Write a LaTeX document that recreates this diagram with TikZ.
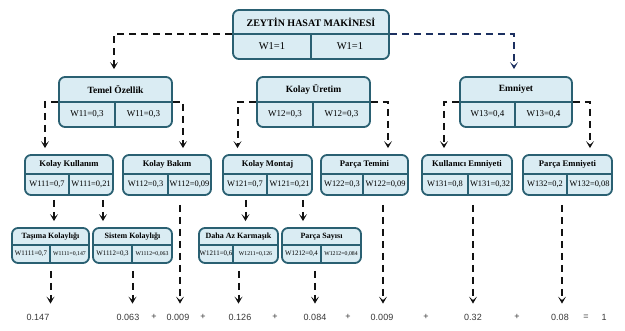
\documentclass[tikz,border=0pt]{standalone}
\usepackage{fontspec}
\setmainfont{Liberation Serif}
\newfontfamily\numfont{Liberation Sans}
\usetikzlibrary{arrows.meta,fit}
\definecolor{boxfill}{RGB}{218,236,243}
\definecolor{boxdraw}{RGB}{42,96,114}
\definecolor{linecol}{RGB}{18,18,18}
\definecolor{bluecol}{RGB}{28,48,96}
\definecolor{numcol}{RGB}{55,55,55}
\tikzset{
  box/.style={draw=boxdraw, fill=boxfill, line width=1.8pt, rounded corners=6pt, inner sep=0pt},
  boxline/.style={draw=boxdraw, line width=1.3pt},
  conn/.style={draw=linecol, line width=2pt, dash pattern=on 7pt off 5pt,
    -{Stealth[length=7pt,width=8pt,inset=3.5pt]}},
  numlab/.style={font=\numfont\fontsize{9}{10}\selectfont, text=numcol, inner sep=0pt},
}
\begin{document}
\begin{tikzpicture}[x=1pt,y=-1pt]
\useasboundingbox (0,0) rectangle (625,331);

% ---------- level 1 ----------
\begin{scope}[ttl/.style={font=\bfseries\fontsize{10}{11}\selectfont, inner sep=0pt},
  lft/.style={font=\fontsize{10.5}{11}\selectfont, inner sep=0pt},
  rgt/.style={font=\fontsize{10.5}{11}\selectfont, inner sep=0pt}]
\foreach \n/\l/\t/\r/\b/\dy/\vx/\ti/\lt/\rt in {
  top/233/10/389/59/34/311/{ZEYTİN HASAT MAKİNESİ}/{W1=1}/{W1=1}}{
  \node[box, fit={(\l,\t)(\r,\b)}] (\n) {};
  \draw[boxline] (\l,\dy) -- (\r,\dy);
  \draw[boxline] (\vx,\dy) -- (\vx,\b);
  \node[ttl] (\n-t) at ({(\l+\r)/2},{(\t+\dy)/2}) {\ti};
  \node[lft] (\n-l) at ({(\l+\vx)/2},{(\dy+\b)/2}) {\lt};
  \node[rgt] (\n-r) at ({(\vx+\r)/2},{(\dy+\b)/2}) {\rt};
}
\end{scope}

% ---------- level 2 ----------
\begin{scope}[ttl/.style={font=\bfseries\fontsize{9.5}{11}\selectfont, inner sep=0pt},
  lft/.style={font=\fontsize{9}{10}\selectfont, inner sep=0pt},
  rgt/.style={font=\fontsize{9}{10}\selectfont, inner sep=0pt}]
\foreach \n/\l/\t/\r/\b/\dy/\vx/\ti/\lt/\rt in {
  temel/59/77/172/127/102/115/{Temel Özellik}/{W11=0,3}/{W11=0,3},
  kuret/257/77/370/127/102/313/{Kolay Üretim}/{W12=0,3}/{W12=0,3},
  emn/460/77/572/127/102/515/{Emniyet}/{W13=0,4}/{W13=0,4}}{
  \node[box, fit={(\l,\t)(\r,\b)}] (\n) {};
  \draw[boxline] (\l,\dy) -- (\r,\dy);
  \draw[boxline] (\vx,\dy) -- (\vx,\b);
  \node[ttl] (\n-t) at ({(\l+\r)/2},{(\t+\dy)/2}) {\ti};
  \node[lft] (\n-l) at ({(\l+\vx)/2},{(\dy+\b)/2}) {\lt};
  \node[rgt] (\n-r) at ({(\vx+\r)/2},{(\dy+\b)/2}) {\rt};
}
\end{scope}

% ---------- level 3 ----------
\begin{scope}[ttl/.style={font=\bfseries\fontsize{8.6}{10}\selectfont, inner sep=0pt},
  lft/.style={font=\fontsize{8.4}{10}\selectfont, inner sep=0pt},
  rgt/.style={font=\fontsize{8.4}{10}\selectfont, inner sep=0pt}]
\foreach \n/\l/\t/\r/\b/\dy/\vx/\ti/\lt/\rt in {
  kk/25/155/113/195/174/69/{Kolay Kullanım}/{W111=0,7}/{W111=0,21},
  kb/123/155/211/195/174/168/{Kolay Bakım}/{W112=0,3}/{W112=0,09},
  km/223/155/312/195/174/267/{Kolay Montaj}/{W121=0,7}/{W121=0,21},
  pt/321/155/408/195/174/363/{Parça Temini}/{W122=0,3}/{W122=0,09},
  ke/422/155/512/195/174/468/{Kullanıcı Emniyeti}/{W131=0,8}/{W131=0,32},
  pe/523/155/612/195/174/567/{Parça Emniyeti}/{W132=0,2}/{W132=0,08}}{
  \node[box, fit={(\l,\t)(\r,\b)}] (\n) {};
  \draw[boxline] (\l,\dy) -- (\r,\dy);
  \draw[boxline] (\vx,\dy) -- (\vx,\b);
  \node[ttl] (\n-t) at ({(\l+\r)/2},{(\t+\dy)/2}) {\ti};
  \node[lft] (\n-l) at ({(\l+\vx)/2},{(\dy+\b)/2}) {\lt};
  \node[rgt] (\n-r) at ({(\vx+\r)/2},{(\dy+\b)/2}) {\rt};
}
\end{scope}

% ---------- level 4 ----------
\begin{scope}[ttl/.style={font=\bfseries\fontsize{8}{9}\selectfont, inner sep=0pt},
  lft/.style={font=\fontsize{6.9}{8}\selectfont, inner sep=0pt},
  rgt/.style={font=\fontsize{5.8}{7}\selectfont, inner sep=0pt}]
\foreach \n/\l/\t/\r/\b/\dy/\vx/\ti/\lt/\rt in {
  tk/12/228/89/263/245/50/{Taşıma Kolaylığı}/{W1111=0,7}/{W1111=0,147},
  sk/93/228/172/263/245/132/{Sistem Kolaylığı}/{W1112=0,3}/{W1112=0,063},
  dk/199/228/278/263/245/233/{Daha Az Karmaşık}/{W1211=0,6}/{W1211=0,126},
  ps/282/228/361/263/245/321/{Parça Sayısı}/{W1212=0,4}/{W1212=0,084}}{
  \node[box, fit={(\l,\t)(\r,\b)}] (\n) {};
  \draw[boxline] (\l,\dy) -- (\r,\dy);
  \draw[boxline] (\vx,\dy) -- (\vx,\b);
  \node[ttl] (\n-t) at ({(\l+\r)/2},{(\t+\dy)/2}) {\ti};
  \node[lft] (\n-l) at ({(\l+\vx)/2},{(\dy+\b)/2}) {\lt};
  \node[rgt] (\n-r) at ({(\vx+\r)/2},{(\dy+\b)/2}) {\rt};
}
\end{scope}

% ---------- bottom sums ----------
\node[numlab] (n1) at (38,317) {0.147};
\node[numlab] (n2) at (128,317) {0.063};
\node[numlab] (p1) at (154,317) {+};
\node[numlab] (n3) at (178,317) {0.009};
\node[numlab] (p2) at (203,317) {+};
\node[numlab] (n4) at (240,317) {0.126};
\node[numlab] (p3) at (275,317) {+};
\node[numlab] (n5) at (315,317) {0.084};
\node[numlab] (p4) at (348,317) {+};
\node[numlab] (n6) at (382,317) {0.009};
\node[numlab] (p5) at (426,317) {+};
\node[numlab] (n7) at (473,317) {0.32};
\node[numlab] (p6) at (517,317) {+};
\node[numlab] (n8) at (560,317) {0.08};
\node[numlab] (eq) at (586,317) {=};
\node[numlab] (one) at (604,317) {1};

% ---------- connectors ----------
% level 1 -> level 2
\draw[conn, shorten >=7pt] (top.west) -| ([xshift=-1.5pt]temel.north);
\draw[conn, draw=bluecol, shorten >=7pt] (top.east) -| ([xshift=-2pt]emn.north);

% level 2 -> level 3
\draw[conn, shorten >=6pt] (temel.west) -| ([xshift=-24pt]kk.north);
\draw[conn, shorten >=6pt] (temel.east) -| ([xshift=16pt]kb.north);
\draw[conn, shorten >=6pt] (kuret.west) -| ([xshift=-30pt]km.north);
\draw[conn, shorten >=6pt] (kuret.east) -| ([xshift=23.5pt]pt.north);
\draw[conn, shorten >=6pt] (emn.west) -| ([xshift=-23pt]ke.north);
\draw[conn, shorten >=6pt] (emn.east) -| ([xshift=22.5pt]pe.north);

% level 3 -> level 4
\draw[conn, shorten <=4pt, shorten >=6pt] ([xshift=-15pt]kk.south) -- ([xshift=-15pt]kk.south |- tk.north);
\draw[conn, shorten <=4pt, shorten >=6pt] ([xshift=34pt]kk.south) -- ([xshift=34pt]kk.south |- sk.north);
\draw[conn, shorten <=4pt, shorten >=6pt] ([xshift=-22pt]km.south) -- ([xshift=-22pt]km.south |- dk.north);
\draw[conn, shorten <=4pt, shorten >=6pt] ([xshift=35.5pt]km.south) -- ([xshift=35.5pt]km.south |- ps.north);

% level 3 -> sums
\draw[conn, shorten <=9pt, shorten >=10pt] ([xshift=13pt]kb.south) -- ([xshift=13pt]kb.south |- n3.north);
\draw[conn, shorten <=9pt, shorten >=10pt] ([xshift=18.5pt]pt.south) -- ([xshift=18.5pt]pt.south |- n6.north);
\draw[conn, shorten <=9pt, shorten >=10pt] ([xshift=6pt]ke.south) -- ([xshift=6pt]ke.south |- n7.north);
\draw[conn, shorten <=9pt, shorten >=10pt] ([xshift=-5.5pt]pe.south) -- ([xshift=-5.5pt]pe.south |- n8.north);

% level 4 -> sums
\draw[conn, shorten <=7pt, shorten >=10pt] (tk.south) -- (tk.south |- n1.north);
\draw[conn, shorten <=7pt, shorten >=10pt] (sk.south) -- (sk.south |- n2.north);
\draw[conn, shorten <=7pt, shorten >=10pt] (dk.south) -- (dk.south |- n4.north);
\draw[conn, shorten <=7pt, shorten >=10pt] ([xshift=-6.5pt]ps.south) -- ([xshift=-6.5pt]ps.south |- n5.north);
\end{tikzpicture}
\end{document}
